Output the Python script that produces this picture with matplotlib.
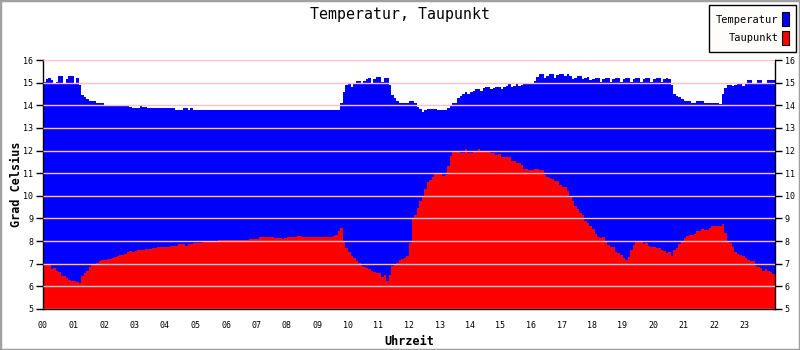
import matplotlib
matplotlib.use("Agg")
import matplotlib.pyplot as plt
import numpy as np
from matplotlib.patches import Patch, Rectangle

# 5-minute readings, one row per hour (00..23)
temperatur = [
    15.05, 15.16, 15.2, 15.12, 14.92, 15.05, 15.3, 15.3, 15.0, 15.15, 15.3, 15.3,
    15.0, 15.19, 14.9, 14.46, 14.38, 14.28, 14.2, 14.2, 14.2, 14.12, 14.12, 14.12,
    13.99, 13.99, 13.99, 13.99, 13.99, 13.99, 13.99, 13.99, 13.99, 13.99, 13.91, 13.9,
    13.9, 13.9, 13.98, 13.93, 13.94, 13.88, 13.88, 13.88, 13.88, 13.88, 13.88, 13.88,
    13.88, 13.88, 13.88, 13.88, 13.8, 13.8, 13.8, 13.87, 13.87, 13.8, 13.87, 13.8,
    13.8, 13.8, 13.8, 13.8, 13.8, 13.8, 13.8, 13.8, 13.8, 13.8, 13.8, 13.8,
    13.8, 13.8, 13.8, 13.8, 13.8, 13.8, 13.8, 13.8, 13.8, 13.8, 13.8, 13.8,
    13.8, 13.8, 13.8, 13.8, 13.8, 13.8, 13.8, 13.8, 13.8, 13.8, 13.8, 13.8,
    13.8, 13.8, 13.8, 13.8, 13.8, 13.8, 13.8, 13.8, 13.8, 13.8, 13.8, 13.8,
    13.8, 13.8, 13.8, 13.8, 13.8, 13.8, 13.8, 13.8, 13.8, 14.1, 14.6, 14.88,
    14.94, 14.82, 14.94, 15.09, 15.09, 15.0, 15.09, 15.16, 15.22, 15.0, 15.15, 15.26,
    15.25, 15.05, 15.2, 15.2, 14.9, 14.45, 14.3, 14.2, 14.12, 14.12, 14.12, 14.12,
    14.2, 14.2, 14.12, 13.93, 13.85, 13.72, 13.8, 13.85, 13.85, 13.85, 13.85, 13.8,
    13.8, 13.8, 13.8, 13.88, 14.0, 14.12, 14.12, 14.34, 14.4, 14.5, 14.57, 14.48,
    14.57, 14.65, 14.72, 14.72, 14.65, 14.75, 14.82, 14.82, 14.72, 14.75, 14.82, 14.82,
    14.72, 14.8, 14.87, 14.96, 14.82, 14.87, 14.97, 14.85, 14.9, 14.97, 14.97, 14.97,
    14.92, 15.09, 15.27, 15.38, 15.38, 15.2, 15.3, 15.38, 15.38, 15.2, 15.32, 15.38,
    15.38, 15.3, 15.38, 15.3, 15.15, 15.22, 15.3, 15.3, 15.15, 15.22, 15.26, 15.1,
    15.15, 15.22, 15.22, 15.05, 15.15, 15.22, 15.22, 15.05, 15.15, 15.22, 15.22, 15.05,
    15.15, 15.22, 15.22, 15.05, 15.15, 15.22, 15.22, 15.05, 15.15, 15.22, 15.22, 15.05,
    15.15, 15.22, 15.22, 15.05, 15.15, 15.22, 15.15, 14.9, 14.5, 14.4, 14.35, 14.26,
    14.2, 14.2, 14.2, 14.12, 14.12, 14.2, 14.2, 14.2, 14.12, 14.12, 14.12, 14.12,
    14.12, 14.12, 14.05, 14.5, 14.75, 14.88, 14.9, 14.85, 14.9, 14.97, 14.97, 14.87,
    14.97, 15.12, 15.12, 14.97, 14.97, 15.12, 15.12, 14.97, 14.97, 15.12, 15.12, 15.12,
]

taupunkt = [
    6.97, 6.98, 6.96, 6.75, 6.8, 6.7, 6.63, 6.45, 6.45, 6.35, 6.3, 6.25,
    6.25, 6.2, 6.15, 6.45, 6.6, 6.7, 6.85, 6.95, 7.0, 7.05, 7.1, 7.15,
    7.15, 7.2, 7.2, 7.25, 7.3, 7.35, 7.4, 7.4, 7.45, 7.5, 7.55, 7.5,
    7.55, 7.6, 7.6, 7.6, 7.65, 7.65, 7.65, 7.7, 7.7, 7.75, 7.75, 7.75,
    7.75, 7.75, 7.78, 7.8, 7.8, 7.85, 7.85, 7.85, 7.8, 7.85, 7.85, 7.9,
    7.9, 7.9, 7.9, 7.95, 8.0, 8.0, 8.0, 8.0, 8.0, 8.05, 8.05, 8.05,
    8.05, 8.05, 8.05, 8.05, 8.05, 8.05, 8.07, 8.07, 8.07, 8.1, 8.1, 8.1,
    8.1, 8.18, 8.18, 8.18, 8.2, 8.2, 8.18, 8.15, 8.15, 8.15, 8.1, 8.12,
    8.18, 8.18, 8.18, 8.2, 8.23, 8.23, 8.2, 8.18, 8.17, 8.16, 8.18, 8.18,
    8.18, 8.18, 8.18, 8.18, 8.18, 8.18, 8.22, 8.28, 8.45, 8.57, 8.0, 7.7,
    7.5, 7.35, 7.25, 7.12, 7.05, 6.9, 6.85, 6.8, 6.78, 6.7, 6.65, 6.6,
    6.6, 6.4, 6.5, 6.25, 6.5, 6.9, 7.0, 7.05, 7.18, 7.22, 7.25, 7.35,
    7.9, 8.97, 9.15, 9.45, 9.78, 9.95, 10.3, 10.6, 10.7, 10.85, 10.98, 10.97,
    10.95, 10.88, 10.94, 11.3, 11.75, 11.94, 12.0, 11.95, 11.9, 11.9, 12.05, 11.9,
    11.9, 11.98, 11.98, 12.05, 11.95, 11.95, 11.95, 11.95, 11.87, 11.87, 11.8, 11.84,
    11.72, 11.72, 11.7, 11.7, 11.54, 11.54, 11.45, 11.45, 11.35, 11.2, 11.2, 11.13,
    11.13, 11.2, 11.17, 11.13, 11.13, 10.9, 10.85, 10.8, 10.76, 10.66, 10.66, 10.5,
    10.37, 10.37, 10.22, 10.0, 9.75, 9.55, 9.4, 9.25, 9.15, 8.9, 8.8, 8.67,
    8.52, 8.3, 8.2, 8.13, 8.18, 7.95, 7.84, 7.75, 7.72, 7.54, 7.47, 7.4,
    7.25, 7.15, 7.3, 7.62, 7.84, 7.97, 7.94, 7.98, 7.88, 7.9, 7.8, 7.74,
    7.74, 7.68, 7.68, 7.6, 7.57, 7.47, 7.5, 7.32, 7.6, 7.7, 7.87, 8.0,
    8.13, 8.24, 8.28, 8.28, 8.3, 8.43, 8.43, 8.53, 8.5, 8.5, 8.6, 8.68,
    8.68, 8.65, 8.65, 8.76, 8.35, 7.94, 7.9, 7.72, 7.54, 7.44, 7.4, 7.35,
    7.25, 7.15, 7.1, 7.1, 6.9, 6.85, 6.8, 6.7, 6.75, 6.66, 6.65, 6.55,
]

stunden = [f"{h:02d}" for h in range(24)]
grad = list(range(5, 17))

FONT = "DejaVu Sans Mono"
plt.rcParams["font.family"] = FONT

fig = plt.figure(figsize=(8, 3.5), dpi=100)
fig.patch.set_facecolor("white")
ax = fig.add_axes([43 / 800, 1 - 309 / 350, 732 / 800, 249 / 350])

# each reading covers 5 minutes
edges = np.arange(len(temperatur) + 1) / 12
ax.stairs(temperatur, edges, baseline=5, fill=True, color="#0000ff", lw=0)
ax.stairs(taupunkt, edges, baseline=5, fill=True, color="#ff0000", lw=0)

ax.set_xlim(0, 24)
ax.set_ylim(5, 16)
ax.set_xticks(range(24))
ax.set_xticklabels(stunden, fontsize=6)
ax.set_yticks(grad)
ax.set_yticklabels([str(g) for g in grad], fontsize=6)
ax.tick_params(axis="x", length=0, pad=9)
ax.tick_params(axis="y", direction="out", length=5, width=1, pad=2,
               right=True, labelright=True)

ax.set_axisbelow(False)
ax.yaxis.grid(True, color="#ffc0cb", lw=1)
ax.spines["top"].set_visible(False)
for s in ("left", "right", "bottom"):
    ax.spines[s].set_linewidth(1)

ax.set_xlabel("Uhrzeit", fontsize=8.5, fontweight="bold", labelpad=3)
ax.set_ylabel("Grad Celsius", fontsize=8.5, fontweight="bold", labelpad=0)
fig.text(0.5, 1 - 15 / 350, "Temperatur, Taupunkt", ha="center", va="center",
         fontsize=10.7)

leg = ax.legend(
    handles=[Patch(facecolor="#0000ff", edgecolor="black", lw=0.8, label="Temperatur"),
             Patch(facecolor="#ff0000", edgecolor="black", lw=0.8, label="Taupunkt")],
    loc="upper right", bbox_to_anchor=(796 / 800, 1 - 5 / 350),
    bbox_transform=fig.transFigure, markerfirst=False, fancybox=False,
    framealpha=1, edgecolor="black", fontsize=7.5, handlelength=0.6,
    handleheight=1.7, handletextpad=0.4, borderpad=0.7, labelspacing=0.45,
    borderaxespad=0)
leg.get_frame().set_linewidth(1)
leg.get_frame().set_facecolor("#fffcfc")
for t in leg.get_texts():
    t.set_ha("right")

# grey frame round the image
fig.patches.append(Rectangle((0, 0), 1, 1, transform=fig.transFigure,
                             fill=False, edgecolor="#a0a0a0", lw=2.5))

fig.savefig("out.png", dpi=100)
